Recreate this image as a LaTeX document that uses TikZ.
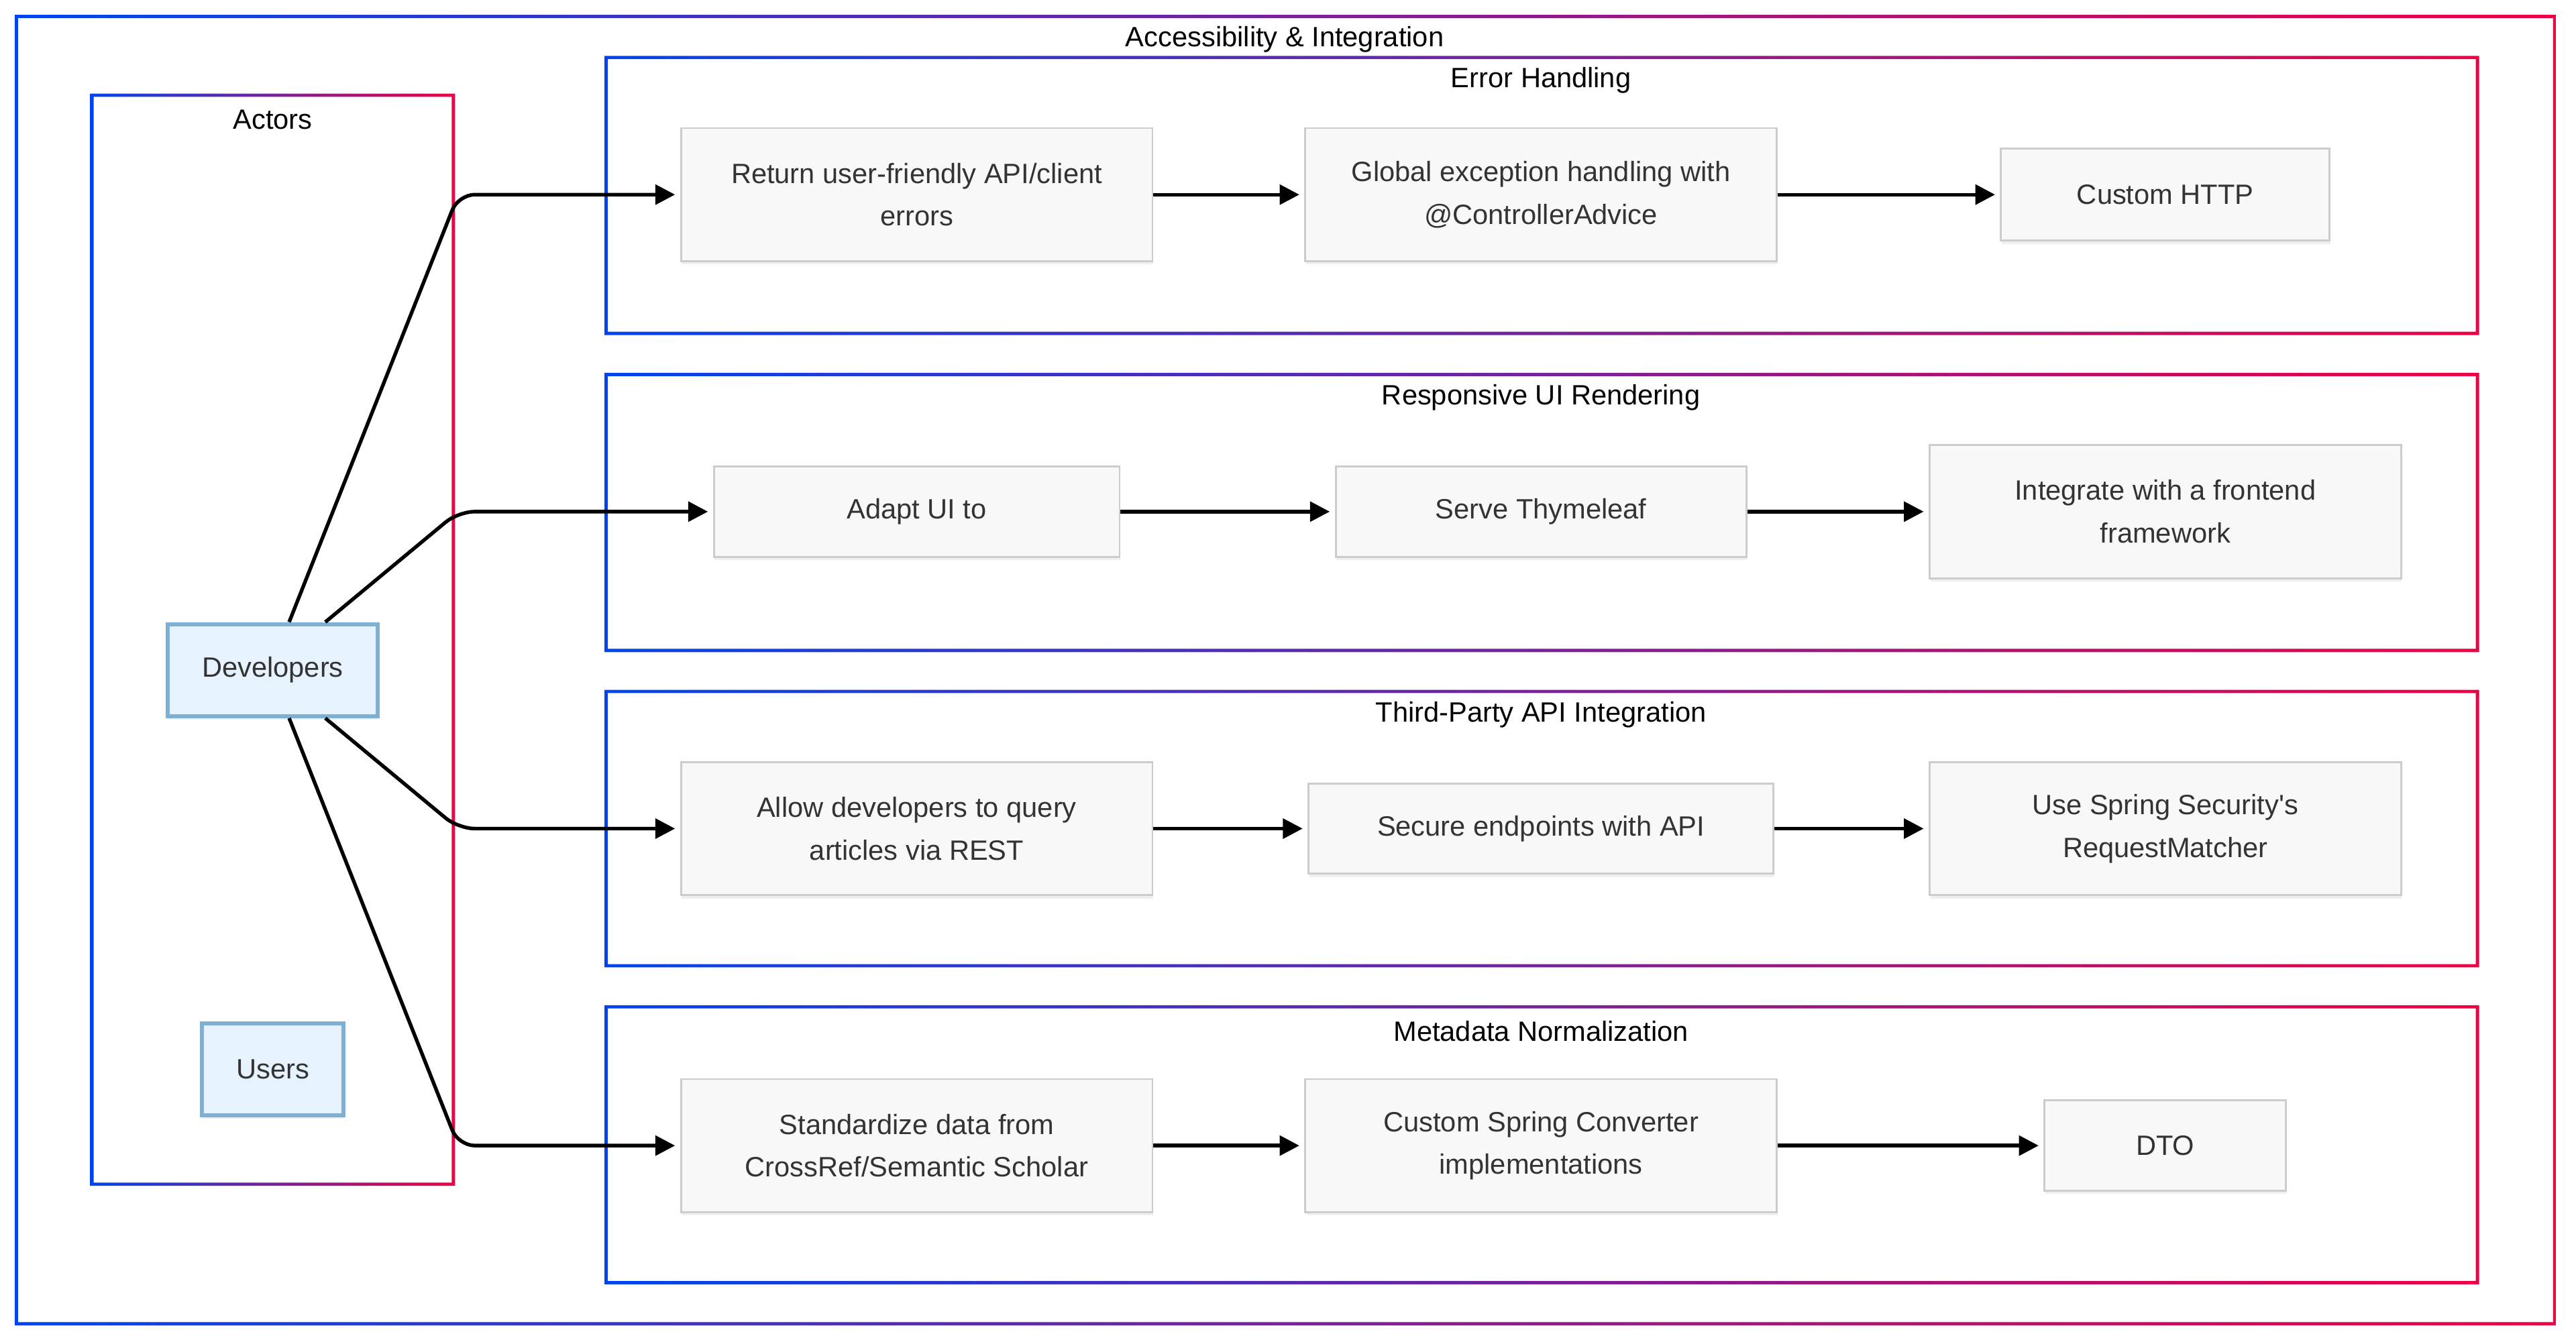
\documentclass[tikz,border=0pt]{standalone}
\usepackage{fontspec}
\setmainfont{Liberation Sans}[Ligatures=TeXOff]
\usetikzlibrary{arrows.meta,shadows}
\definecolor{gblue}{HTML}{0044EE}
\definecolor{gred}{HTML}{EE0044}
\definecolor{procfill}{HTML}{F8F8F8}
\definecolor{procdraw}{HTML}{CCCCCC}
\definecolor{actfill}{HTML}{E6F2FD}
\definecolor{actdraw}{HTML}{7FB0D3}
\definecolor{txtc}{HTML}{333333}
\newcommand{\dfont}{\fontsize{17}{26}\selectfont}
\newcommand{\gframe}[4]{%
  \shade[even odd rule, left color=gblue, right color=gred]
    (#1-1,#2-1) rectangle (#3+1,#4+1) (#1+1,#2+1) rectangle (#3-1,#4-1);}
\tikzset{
  proc/.style={draw=procdraw, line width=1.2pt, fill=procfill, text=txtc,
    align=center, font=\dfont, inner sep=0pt,
    drop shadow={opacity=0.12, shadow xshift=0.5pt, shadow yshift=-2pt}},
  actor/.style={draw=actdraw, line width=2.5pt, fill=actfill, text=txtc,
    align=center, font=\dfont, inner sep=0pt,
    drop shadow={opacity=0.12, shadow xshift=0.5pt, shadow yshift=-2pt}},
  ctitle/.style={font=\dfont, text=black, inner sep=0pt},
  flow/.style={-{Triangle[length=12pt,width=12pt]}, line width=2.2pt, black,
    rounded corners=10pt, shorten >=3pt},
}
\begin{document}
\begin{tikzpicture}[x=1pt,y=-1pt]
\useasboundingbox (0,0) rectangle (1568,818.3);
\fill[white] (0,0) rectangle (1568,818.3);
% frames
\gframe{10}{10}{1555}{806}
\gframe{56}{58}{276}{721}
\gframe{369}{35}{1508}{203}
\gframe{369}{228}{1508}{396}
\gframe{369}{421}{1508}{588}
\gframe{369}{613}{1508}{781}
% titles
\node[ctitle] (t0) at (782,24) {Accessibility \& Integration};
\node[ctitle] (t1) at (166,73) {Actors};
\node[ctitle] (t2) at (938,49) {Error Handling};
\node[ctitle] (t3) at (938,242) {Responsive UI Rendering};
\node[ctitle] (t4) at (938,435) {Third-Party API Integration};
\node[ctitle] (t5) at (938,628) {Metadata Normalization};
% actors
\node[actor, minimum width=128pt, minimum height=56pt] (dev) at (166,408) {Developers};
\node[actor, minimum width=86pt, minimum height=56pt] (usr) at (166,651) {Users};
% error handling
\node[proc, minimum width=287pt, minimum height=81pt] (ret) at (558,118.5) {Return user-friendly API/client\\errors};
\node[proc, minimum width=287pt, minimum height=81pt] (glob) at (938,118.5) {Global exception handling with\\@ControllerAdvice};
\node[proc, minimum width=200pt, minimum height=56pt] (http) at (1318,118.5) {Custom HTTP};
% responsive UI
\node[proc, minimum width=247pt, minimum height=55pt] (adapt) at (558,311.5) {Adapt UI to};
\node[proc, minimum width=250pt, minimum height=55pt] (thyme) at (938,311.5) {Serve Thymeleaf};
\node[proc, minimum width=287pt, minimum height=81pt] (front) at (1318,311.5) {Integrate with a frontend\\framework};
% third party
\node[proc, minimum width=287pt, minimum height=81pt] (allow) at (558,504.5) {Allow developers to query\\articles via REST};
\node[proc, minimum width=283pt, minimum height=55pt] (secure) at (938,504.5) {Secure endpoints with API};
\node[proc, minimum width=287pt, minimum height=81pt] (reqm) at (1318,504.5) {Use Spring Security's\\RequestMatcher};
% metadata
\node[proc, minimum width=287pt, minimum height=81pt] (std) at (558,697.5) {Standardize data from\\CrossRef/Semantic Scholar};
\node[proc, minimum width=287pt, minimum height=81pt] (conv) at (938,697.5) {Custom Spring Converter\\implementations};
\node[proc, minimum width=147pt, minimum height=55pt] (dto) at (1318,697.5) {DTO};
% edges
\coordinate (bx) at (279,0);
\draw[flow] ([xshift=10pt]dev.north) -- (bx |- ret.west) -- (ret.west);
\draw[flow] ([xshift=32pt]dev.north) -- (bx |- adapt.west) -- (adapt.west);
\draw[flow] ([xshift=32pt]dev.south) -- (bx |- allow.west) -- (allow.west);
\draw[flow] ([xshift=10pt]dev.south) -- (bx |- std.west) -- (std.west);
\draw[flow] (ret) -- (glob);
\draw[flow] (glob) -- (http);
\draw[flow] (adapt) -- (thyme);
\draw[flow] (thyme) -- (front);
\draw[flow] (allow) -- (secure);
\draw[flow] (secure) -- (reqm);
\draw[flow] (std) -- (conv);
\draw[flow] (conv) -- (dto);
\end{tikzpicture}
\end{document}
